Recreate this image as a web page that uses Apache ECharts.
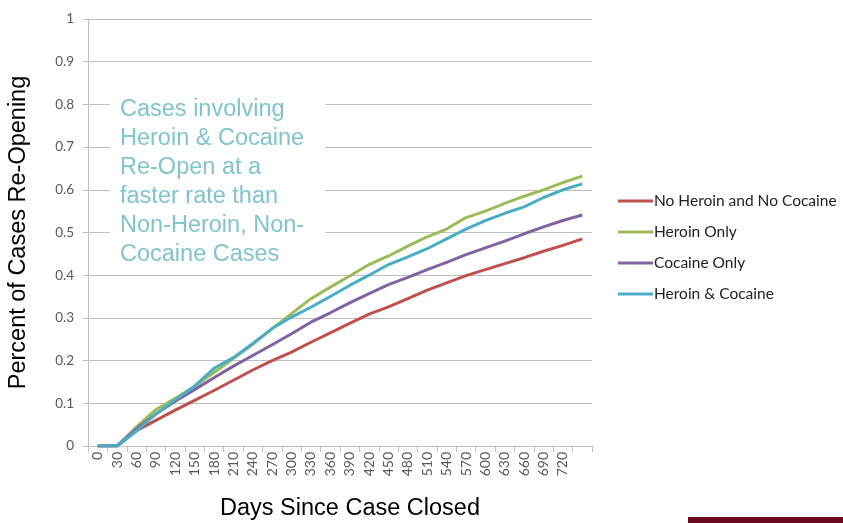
<!DOCTYPE html>
<html>
<head>
<meta charset="utf-8">
<script src="https://cdn.jsdelivr.net/npm/echarts@6/dist/echarts.min.js"></script>
<style>
  html, body { margin: 0; padding: 0; background: #fff; }
  #chart { width: 843px; height: 523px; }
</style>
</head>
<body>
<div id="chart"></div>
<script>
// days since case closed (last category has no label in the original)
const days = ['0', '30', '60', '90', '120', '150', '180', '210', '240', '270', '300', '330', '360',
  '390', '420', '450', '480', '510', '540', '570', '600', '630', '660', '690', '720', ''];

const noHeroinNoCocaine = [0, 0, 0.036, 0.06, 0.084, 0.107, 0.13, 0.154, 0.178, 0.2, 0.22, 0.243, 0.265,
  0.287, 0.309, 0.326, 0.345, 0.365, 0.382, 0.399, 0.413, 0.427, 0.441, 0.456, 0.47, 0.485];
const heroinOnly = [0, 0, 0.045, 0.085, 0.112, 0.14, 0.172, 0.205, 0.238, 0.275, 0.31, 0.345, 0.372,
  0.398, 0.425, 0.445, 0.468, 0.49, 0.508, 0.535, 0.55, 0.568, 0.585, 0.6, 0.617, 0.632];
const cocaineOnly = [0, 0, 0.04, 0.075, 0.105, 0.132, 0.16, 0.187, 0.212, 0.237, 0.263, 0.29, 0.312,
  0.335, 0.357, 0.378, 0.395, 0.413, 0.43, 0.448, 0.464, 0.48, 0.497, 0.513, 0.528, 0.541];
const heroinAndCocaine = [0, 0, 0.035, 0.075, 0.108, 0.14, 0.182, 0.207, 0.24, 0.275, 0.302, 0.325, 0.35,
  0.376, 0.4, 0.425, 0.443, 0.462, 0.485, 0.508, 0.528, 0.545, 0.56, 0.582, 0.6, 0.614];

const seriesNames = ['No Heroin and No Cocaine', 'Heroin Only', 'Cocaine Only', 'Heroin & Cocaine'];
const seriesData = [noHeroinNoCocaine, heroinOnly, cocaineOnly, heroinAndCocaine];
const colors = ['#c0504d', '#9bbb59', '#8064a2', '#4bacc6'];

const note = 'Cases involving\nHeroin & Cocaine\nRe-Open at a\nfaster rate than\nNon-Heroin, Non-\nCocaine Cases';

const chart = echarts.init(document.getElementById('chart'));

chart.setOption({
  animation: false,
  color: colors,
  grid: { left: 88, right: 251, top: 19, bottom: 77, outerBoundsMode: 'none', containLabel: false },
  legend: {
    orient: 'vertical',
    left: 618,
    top: 193,
    padding: 0,
    icon: 'rect',
    itemWidth: 35,
    itemHeight: 3,
    itemGap: 15,
    data: seriesNames,
    textStyle: { fontFamily: 'Lato', fontSize: 15.5, color: '#222', padding: [0, 0, 0, -4], lineHeight: 16 }
  },
  xAxis: {
    type: 'category',
    data: days,
    boundaryGap: true,
    name: 'Days Since Case Closed',
    nameLocation: 'middle',
    nameGap: 51,
    nameTextStyle: { fontFamily: 'Liberation Sans', fontSize: 23.5, color: '#000', padding: [0, 0, 0, 20] },
    axisLine: { lineStyle: { color: '#bfbfbf', width: 1 } },
    axisTick: { show: true, length: 6, interval: 0, lineStyle: { color: '#bfbfbf' } },
    axisLabel: { interval: 0, rotate: 90, margin: 6, fontFamily: 'Lato', fontSize: 14, color: '#595959' }
  },
  yAxis: {
    type: 'value',
    min: 0,
    max: 1,
    interval: 0.1,
    name: 'Percent of Cases Re-Opening',
    nameLocation: 'middle',
    nameGap: 57,
    nameTextStyle: { fontFamily: 'Liberation Sans', fontSize: 23.5, color: '#000' },
    axisLine: { show: true, lineStyle: { color: '#bfbfbf', width: 1 } },
    axisTick: { show: true, length: 5, lineStyle: { color: '#bfbfbf' } },
    axisLabel: { margin: 14, fontFamily: 'Lato', fontSize: 13.5, color: '#595959' },
    splitLine: { lineStyle: { color: '#bfbfbf', width: 1 } }
  },
  series: seriesData.map((d, i) => ({
    name: seriesNames[i],
    type: 'line',
    data: d,
    symbol: 'none',
    lineStyle: { width: 3, color: colors[i] },
    itemStyle: { color: colors[i] }
  })),
  graphic: [
    {
      type: 'rect',
      left: 110, top: 93,
      shape: { width: 215, height: 175 },
      style: { fill: '#fff' },
      z: 10
    },
    {
      type: 'text',
      left: 120, top: 95,
      style: {
        text: note,
        font: '23.5px "Liberation Sans"',
        lineHeight: 29,
        fill: '#80c4cc'
      },
      z: 11
    },
    {
      type: 'rect',
      left: 688, top: 517,
      shape: { width: 155, height: 6 },
      style: { fill: '#6b0a1e' },
      z: 10
    }
  ]
});
</script>
</body>
</html>
